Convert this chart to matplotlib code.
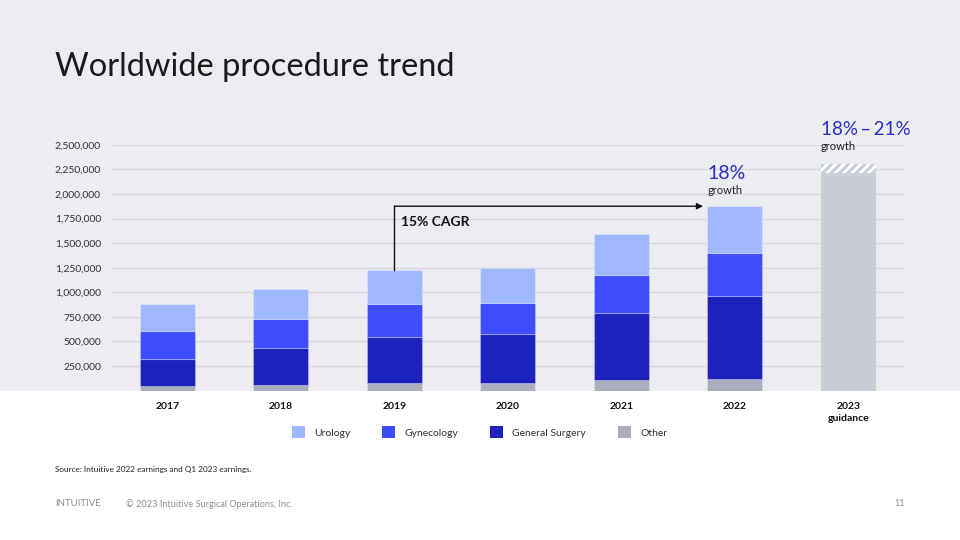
import matplotlib.pyplot as plt
from matplotlib.patches import Patch, Rectangle
from matplotlib.ticker import FuncFormatter

# procedures per year (counts)
years = ["2017", "2018", "2019", "2020", "2021", "2022", "2023\nguidance"]
other = [47_000, 57_000, 74_000, 77_000, 104_000, 118_000]
general_surgery = [277_000, 373_000, 474_000, 501_000, 688_000, 847_000]
gynecology = [285_000, 298_000, 335_000, 315_000, 386_000, 430_000]
urology = [274_000, 308_000, 343_000, 350_000, 417_000, 481_000]
guidance_low = 2_218_000
guidance_high = 2_310_000
yticks = [250_000 * i for i in range(1, 11)]

BG = "#ECEDF1"
C_URO = "#A0B8FF"
C_GYN = "#3F4DFF"
C_GS = "#1D22BC"
C_OTHER = "#A9AEBD"
C_GUIDE = "#C9CDD8"
C_ACCENT = "#2A2FC4"

plt.rcParams["font.family"] = ["Lato", "DejaVu Sans"]
plt.rcParams["hatch.linewidth"] = 2.0

fig = plt.figure(figsize=(9.6, 5.4), dpi=100)
fig.patch.set_facecolor("white")
fig.patches.append(Rectangle((0, 0.2767), 1, 0.7233, transform=fig.transFigure,
                             facecolor=BG, edgecolor="none", zorder=-10))

ax = fig.add_axes([0.1153, 0.2767, 0.8274, 0.455])
ax.set_facecolor("none")

x = list(range(len(years)))
w = 0.485
edge = dict(edgecolor=(1, 1, 1, 0.25), linewidth=0.8)
hx = x[:-1]
b1 = [o for o in other]
b2 = [o + g for o, g in zip(b1, general_surgery)]
b3 = [o + g for o, g in zip(b2, gynecology)]
totals = [o + u for o, u in zip(b3, urology)]
ax.bar(hx, other, w, color=C_OTHER, zorder=3, **edge)
ax.bar(hx, general_surgery, w, bottom=b1, color=C_GS, zorder=3, **edge)
ax.bar(hx, gynecology, w, bottom=b2, color=C_GYN, zorder=3, **edge)
ax.bar(hx, urology, w, bottom=b3, color=C_URO, zorder=3, **edge)

# 2023 guidance bar with hatched range on top
ax.bar(x[-1], guidance_low, w, color=C_GUIDE, linewidth=0, zorder=3)
ax.bar(x[-1], guidance_high - guidance_low, w, bottom=guidance_low,
       color=C_GUIDE, edgecolor="white", hatch="////", linewidth=0, zorder=3)

ax.set_xlim(-0.5, len(years) - 0.5)
ax.set_ylim(0, 2_500_000)
ax.set_yticks(yticks)
ax.yaxis.set_major_formatter(FuncFormatter(lambda v, _: f"{int(v):,}"))
ax.grid(axis="y", color="#D6D8DE", linewidth=1.0, zorder=0)
ax.set_xticks(x)
ax.set_xticklabels(years, fontsize=7.5, fontweight="bold", color="#111111",
                   linespacing=1.45)
ax.tick_params(axis="x", length=0, pad=8)
ax.tick_params(axis="y", length=0, pad=7, labelsize=7.5, labelcolor="#333333")
for s in ax.spines.values():
    s.set_visible(False)

# CAGR connector
ax.plot([x[2], x[2]], [totals[2], totals[5]], color="#111111", lw=1.0, zorder=4)
ax.annotate("", xy=(x[5] - 0.28, totals[5]), xytext=(x[2], totals[5]),
            arrowprops=dict(arrowstyle="-|>", color="#111111", lw=1.0,
                            shrinkA=0, shrinkB=0, mutation_scale=9), zorder=4)
ax.text(x[2] + 0.06, totals[5] - 160_000, "15% CAGR", fontsize=10,
        fontweight="bold", color="#111111", va="center", ha="left")

# growth labels
ax.text(x[5] - 0.24, totals[5] + 335_000, "18%", fontsize=14, color=C_ACCENT,
        ha="left", va="center")
ax.text(x[5] - 0.24, totals[5] + 161_000, "growth", fontsize=8, color="#222222",
        ha="left", va="center")
ax.text(x[6] - 0.24, guidance_high + 348_000, "18%\u2009\u2013\u200921%", fontsize=13.5,
        color=C_ACCENT, ha="left", va="center")
ax.text(x[6] - 0.24, guidance_high + 175_000, "growth", fontsize=8,
        color="#222222", ha="left", va="center")

# legend
handles = [Patch(facecolor=C_URO, label="Urology"),
           Patch(facecolor=C_GYN, label="Gynecology"),
           Patch(facecolor=C_GS, label="General Surgery"),
           Patch(facecolor=C_OTHER, label="Other")]
fig.legend(handles=handles, loc="center", bbox_to_anchor=(0.4995, 0.2), ncol=4,
           frameon=False, fontsize=7.5, handlelength=1.25, handleheight=1.25,
           handletextpad=0.85, columnspacing=3.1, labelcolor="#333333")

fig.text(0.0573, 0.875, "Worldwide procedure trend", fontsize=23.5,
         color="#1a1a1a", va="center", ha="left")
fig.text(0.0573, 0.131, "Source: Intuitive 2022 earnings and Q1 2023 earnings.",
         fontsize=5.9, color="#222222", va="center", ha="left")
fig.text(0.0573, 0.067, "INTUITIVE", fontsize=7, color="#8A8D96",
         va="center", ha="left")
fig.text(0.131, 0.067, "\u00a9 2023 Intuitive Surgical Operations, Inc.",
         fontsize=6.6, color="#8A8D96", va="center", ha="left")
fig.text(0.943, 0.067, "11", fontsize=6.6, color="#8A8D96", va="center",
         ha="right")

fig.savefig("out.png", dpi=100, facecolor=fig.get_facecolor())
